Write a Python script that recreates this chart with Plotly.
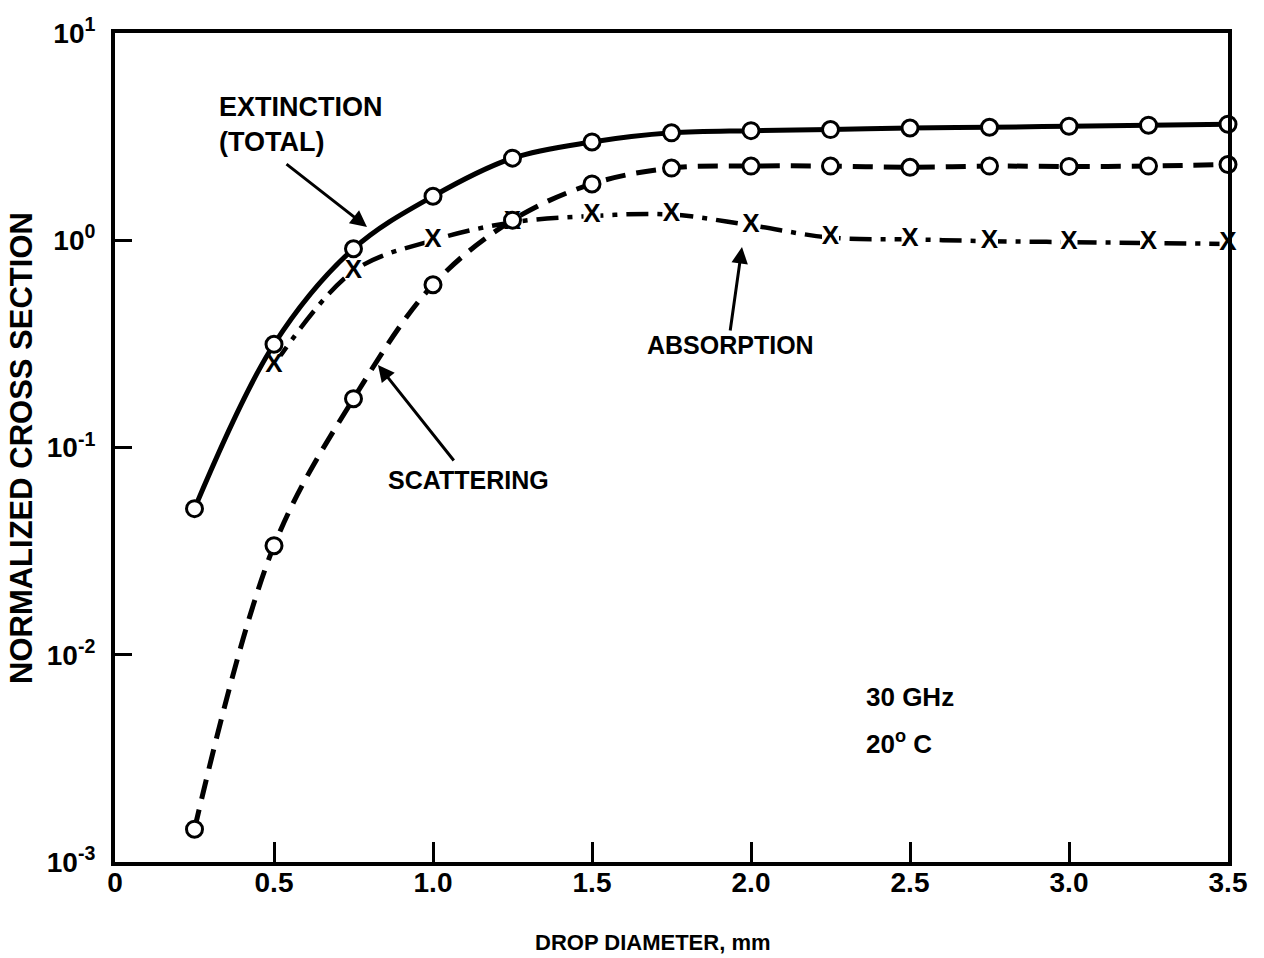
import plotly.graph_objects as go

# ---- data ----
diam = [0.25, 0.5, 0.75, 1.0, 1.25, 1.5, 1.75, 2.0, 2.25, 2.5, 2.75, 3.0, 3.25, 3.5]
extinction = [0.0507, 0.315, 0.91, 1.63, 2.49, 2.98, 3.30, 3.38, 3.42, 3.48, 3.51, 3.55, 3.59, 3.63]
scattering = [0.00144, 0.0336, 0.172, 0.61, 1.25, 1.87, 2.23, 2.28, 2.28, 2.25, 2.28, 2.27, 2.28, 2.32]
diam_abs = [0.5, 0.75, 1.0, 1.25, 1.5, 1.75, 2.0, 2.25, 2.5, 2.75, 3.0, 3.25, 3.5]
absorption = [0.25, 0.71, 1.0, 1.22, 1.31, 1.33, 1.18, 1.03, 1.01, 0.99, 0.98, 0.97, 0.96]

x_ticks = [0, 0.5, 1.0, 1.5, 2.0, 2.5, 3.0, 3.5]
x_tick_text = ["0", "0.5", "1.0", "1.5", "2.0", "2.5", "3.0", "3.5"]
y_ticks = [0.001, 0.01, 0.1, 1, 10]
y_tick_text = ["10<sup>-3</sup>", "10<sup>-2</sup>", "10<sup>-1</sup>", "10<sup>0</sup>", "10<sup>1</sup>"]

FONT = "Liberation Sans"
W, H = 1264, 958
L, R, T, B = 115, 1228, 33, 862


def px(xp, yp):
    return (xp - L) / (R - L), (B - yp) / (B - T)


fig = go.Figure()

# absorption first (so the other curves sit on top of it)
fig.add_trace(go.Scatter(x=diam_abs, y=absorption, mode="lines",
                         line=dict(color="black", width=4.5, shape="spline", smoothing=1.0,
                                   dash="22px,9px,5px,9px"),
                         cliponaxis=False, showlegend=False))
fig.add_trace(go.Scatter(x=diam_abs, y=absorption, mode="markers",
                         marker=dict(symbol="square", size=17, color="white", line=dict(width=0)),
                         cliponaxis=False, showlegend=False))
fig.add_trace(go.Scatter(x=diam_abs, y=absorption, mode="text",
                         text=["X"] * len(diam_abs), textposition="middle center",
                         textfont=dict(family=FONT, size=26, color="black", weight="bold"),
                         cliponaxis=False, showlegend=False))
# extinction and scattering lines
fig.add_trace(go.Scatter(x=diam, y=extinction, mode="lines",
                         line=dict(color="black", width=5, shape="spline", smoothing=1.0),
                         cliponaxis=False, showlegend=False))
fig.add_trace(go.Scatter(x=diam, y=scattering, mode="lines",
                         line=dict(color="black", width=5, shape="spline", smoothing=1.0,
                                   dash="20px,11px"),
                         cliponaxis=False, showlegend=False))
# circle markers
circle = dict(symbol="circle", size=16, color="white", line=dict(color="black", width=3))
fig.add_trace(go.Scatter(x=diam, y=extinction, mode="markers", marker=circle,
                         cliponaxis=False, showlegend=False))
fig.add_trace(go.Scatter(x=diam, y=scattering, mode="markers", marker=circle,
                         cliponaxis=False, showlegend=False))

font_ann = dict(family=FONT, size=25, color="black", weight="bold")
annotations = []


def text_ann(text, xp, yp, xanchor="center", size=25, align="center", angle=0):
    xx, yy = px(xp, yp)
    annotations.append(dict(text=text, x=xx, y=yy, xref="paper", yref="paper",
                            xanchor=xanchor, yanchor="middle", showarrow=False,
                            align=align, textangle=angle, font=dict(font_ann, size=size)))


def arrow_ann(head, tail):
    xx, yy = px(*head)
    annotations.append(dict(text="", x=xx, y=yy, xref="paper", yref="paper",
                            ax=tail[0] - head[0], ay=tail[1] - head[1],
                            showarrow=True, arrowhead=2, arrowsize=1.1, arrowwidth=3,
                            arrowcolor="black", standoff=0))


text_ann("EXTINCTION<br>(TOTAL)", 217, 124, xanchor="left", align="left", size=27)
text_ann("SCATTERING", 468, 480)
text_ann("ABSORPTION", 730, 345)
text_ann("30 GHz", 864, 697, xanchor="left", size=26)
text_ann("20<sup>o</sup> C", 864, 742, xanchor="left", size=26)
text_ann("DROP DIAMETER, mm", 653, 942, size=22)
text_ann("NORMALIZED CROSS SECTION", 22, 448, size=31, angle=-90)
arrow_ann((367, 227), (285, 163))
arrow_ann((378, 365), (455, 462))
arrow_ann((742, 247), (730, 332))

fig.update_layout(
    width=W, height=H,
    margin=dict(l=L, r=W - R, t=T, b=H - B, pad=0),
    paper_bgcolor="white", plot_bgcolor="white",
    font=dict(family=FONT, color="black", weight="bold"),
    annotations=annotations,
    xaxis=dict(range=[0, 3.5], tickvals=x_ticks, ticktext=x_tick_text,
               ticks="inside", ticklen=20, tickwidth=3, tickcolor="black",
               showline=True, linewidth=4, linecolor="black", mirror=True,
               showgrid=False, zeroline=False, ticklabelstandoff=-8,
               tickfont=dict(family=FONT, size=28, weight="bold")),
    yaxis=dict(type="log", range=[-3, 1], tickvals=y_ticks, ticktext=y_tick_text,
               ticks="inside", ticklen=17, tickwidth=3, tickcolor="black",
               showline=True, linewidth=4, linecolor="black", mirror=True,
               showgrid=False, zeroline=False, ticklabelstandoff=10,
               tickfont=dict(family=FONT, size=28, weight="bold")),
)

fig.write_html("out.html", config={"displayModeBar": False},
               post_script="document.body.style.margin='0px';")
